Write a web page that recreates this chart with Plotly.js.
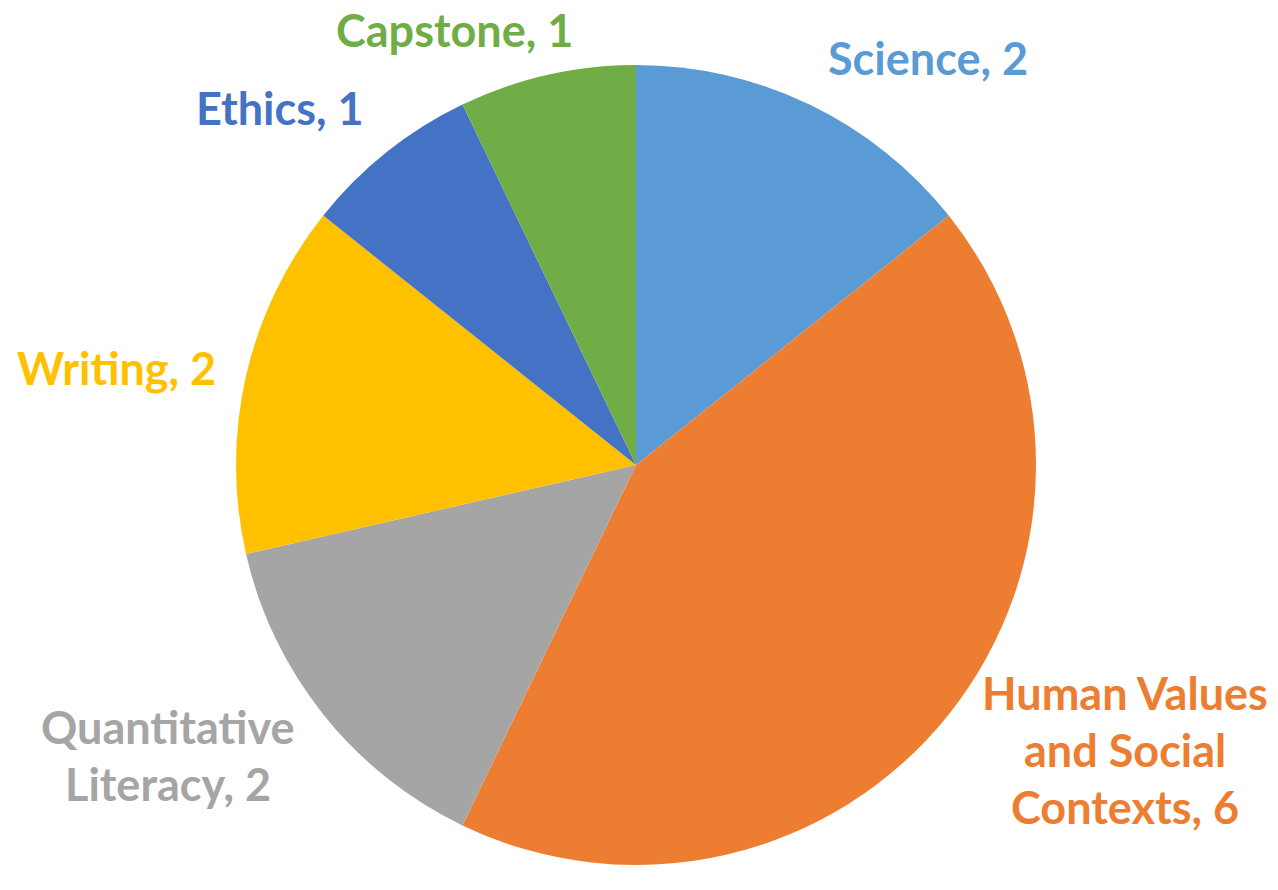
<!DOCTYPE html>
<html>
<head>
<meta charset="utf-8">
<script src="https://cdn.plot.ly/plotly-3.0.1.min.js"></script>
<style>html,body{margin:0;padding:0;background:#fff;}#chart{width:1278px;height:890px;}</style>
</head>
<body>
<div id="chart"></div>
<script>
const categories = ["Science", "Human Values and Social Contexts", "Quantitative Literacy", "Writing", "Ethics", "Capstone"];
const values = [2, 6, 2, 2, 1, 1];
const colors = ["#5B9BD5", "#ED7D31", "#A5A5A5", "#FFC000", "#4472C4", "#70AD47"];
// label line breaks, as in the original
const labelLines = [
  ["Science, 2"],
  ["Human Values", "and Social", "Contexts, 6"],
  ["Quantitative", "Literacy, 2"],
  ["Writing, 2"],
  ["Ethics, 1"],
  ["Capstone, 1"]
];
// label anchor (pixel) positions: center x, first line center y
const labelPos = [
  [928, 58], [1125, 693], [168, 727], [116, 368], [280, 108], [454, 30]
];
const W = 1278, H = 890, lineGap = 57, fontSize = 45;

const annotations = [];
labelLines.forEach((lines, i) => {
  lines.forEach((ln, j) => {
    annotations.push({
      text: ln, showarrow: false, xref: 'paper', yref: 'paper',
      x: labelPos[i][0] / W, y: 1 - (labelPos[i][1] + j * lineGap) / H,
      xanchor: 'center', yanchor: 'middle',
      font: {family: 'Lato, "Open Sans", sans-serif', size: fontSize, color: colors[i], weight: 'bold'}
    });
  });
});

const cx = 636, cy = 465, r = 400;
const data = [{
  type: 'pie',
  labels: categories,
  values: values,
  sort: false,
  direction: 'clockwise',
  rotation: 0,
  textinfo: 'none',
  hoverinfo: 'label+value',
  marker: {colors: colors, line: {width: 0}},
  domain: {x: [(cx - r) / W, (cx + r) / W], y: [1 - (cy + r) / H, 1 - (cy - r) / H]},
  showlegend: false
}];
const layout = {
  width: W, height: H,
  margin: {l: 0, r: 0, t: 0, b: 0},
  paper_bgcolor: '#ffffff',
  showlegend: false,
  annotations: annotations
};
Plotly.newPlot('chart', data, layout, {displayModeBar: false, staticPlot: true});
</script>
</body>
</html>
